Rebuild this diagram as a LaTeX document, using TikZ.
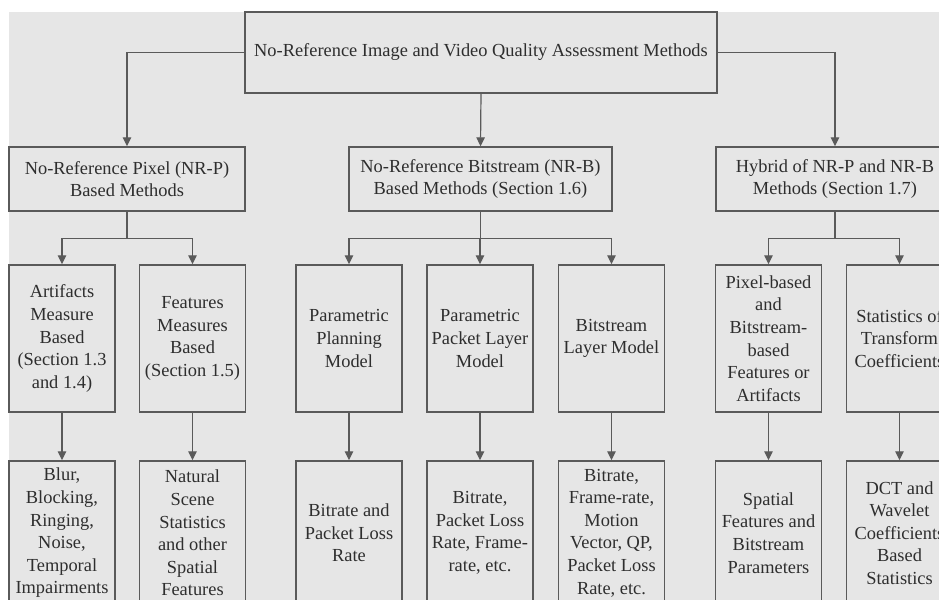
\documentclass[tikz,border=0pt]{standalone}
\usepackage{fontspec}
\setmainfont{Liberation Serif}
\usetikzlibrary{arrows.meta}
\definecolor{bggray}{HTML}{E6E6E6}
\definecolor{linegray}{HTML}{5A5A5A}
\definecolor{textgray}{HTML}{2E2E2E}
\tikzset{
  box/.style={draw=linegray,line width=0.7pt,fill=bggray,align=center,inner sep=0pt,
    text=textgray,font=\fontsize{9.2}{11.3}\selectfont},
  leaf/.style={box,minimum width=53pt,minimum height=73.5pt},
  arr/.style={draw=linegray,line width=0.6pt,-{Triangle[width=4.2pt,length=4.5pt]}}
}
\begin{document}
\begin{tikzpicture}[x=0.5pt,y=-0.5pt]
  \useasboundingbox (0,0) rectangle (939,600);
  \clip (0,0) rectangle (939,600);
  \fill[bggray] (9,12) rectangle (939,600);

  \node[box,minimum width=236pt,minimum height=40.5pt] (top) at (481,52.5)
    {No-Reference Image and Video Quality Assessment Methods};

  \node[box,minimum width=118pt,minimum height=32pt] (nrp) at (127,179)
    {No-Reference Pixel (NR-P)\\Based Methods};
  \node[box,minimum width=131.5pt,minimum height=32pt] (nrb) at (480.5,179)
    {No-Reference Bitstream (NR-B)\\Based Methods (Section 1.6)};
  \node[box,minimum width=119pt,minimum height=32pt] (hyb) at (835,179)
    {Hybrid of NR-P and NR-B\\Methods (Section 1.7)};

  \node[leaf] (arta) at (62,338.5) {Artifacts\\Measure\\Based\\(Section 1.3\\and 1.4)};
  \node[leaf] (feat) at (192.5,338.5) {Features\\Measures\\Based\\(Section 1.5)};
  \node[leaf] (plan) at (349,338.5) {Parametric\\Planning\\Model};
  \node[leaf] (pack) at (480,338.5) {Parametric\\Packet Layer\\Model};
  \node[leaf] (bits) at (611.5,338.5) {Bitstream\\Layer Model};
  \node[leaf] (pixb) at (768.5,338.5) {Pixel-based\\and\\Bitstream-\\based\\Features or\\Artifacts};
  \node[leaf] (stat) at (899.5,338.5) {Statistics of\\Transform\\Coefficients};

  \node[leaf,minimum height=72pt] (blur) at (62,533)
    {Blur,\\Blocking,\\Ringing,\\Noise,\\Temporal\\Impairments};
  \node[leaf,minimum height=72pt] (nss) at (192.5,533)
    {Natural\\Scene\\Statistics\\and other\\Spatial\\Features};
  \node[leaf,minimum height=72pt] (brpl) at (349,533) {Bitrate and\\Packet Loss\\Rate};
  \node[leaf,minimum height=72pt] (brfr) at (480,533)
    {Bitrate,\\Packet Loss\\Rate, Frame-\\rate, etc.};
  \node[leaf,minimum height=72pt] (brmv) at (611.5,533)
    {Bitrate,\\Frame-rate,\\Motion\\Vector, QP,\\Packet Loss\\Rate, etc.};
  \node[leaf,minimum height=72pt] (spat) at (768.5,533)
    {Spatial\\Features and\\Bitstream\\Parameters};
  \node[leaf,minimum height=72pt] (dct) at (899.5,533)
    {DCT and\\Wavelet\\Coefficients\\Based\\Statistics};

  \draw[arr] (top.west) -| (nrp.north);
  \draw[arr] (top.east) -| (hyb.north);
  \draw[arr] (top.south) -- (nrb.north);

  \draw[arr] (nrp.south) -- ++(0,27) -| (arta.north);
  \draw[arr] (nrp.south) -- ++(0,27) -| (feat.north);
  \draw[arr] (nrb.south) -- ++(0,27) -| (plan.north);
  \draw[arr] (nrb.south) -- ++(0,27) -| (pack.north);
  \draw[arr] (nrb.south) -- ++(0,27) -| (bits.north);
  \draw[arr] (hyb.south) -- ++(0,27) -| (pixb.north);
  \draw[arr] (hyb.south) -- ++(0,27) -| (stat.north);

  \foreach \a/\b in {arta/blur,feat/nss,plan/brpl,pack/brfr,bits/brmv,pixb/spat,stat/dct}
    \draw[arr] (\a.south) -- (\b.north);
\end{tikzpicture}
\end{document}
